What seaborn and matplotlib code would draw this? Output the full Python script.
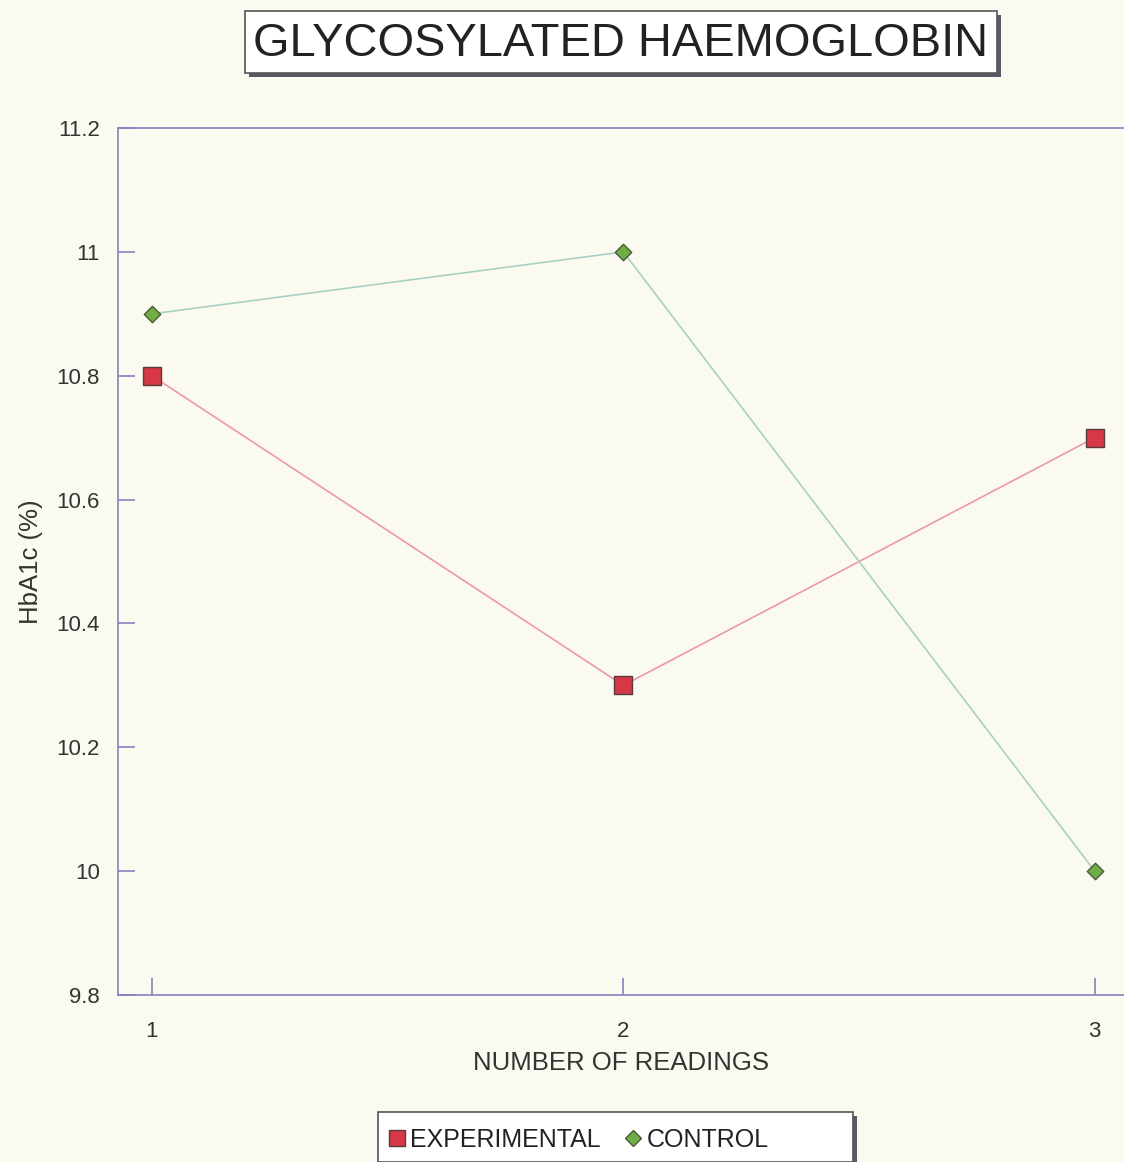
import pandas as pd
import matplotlib.pyplot as plt
import seaborn as sns
from matplotlib.lines import Line2D
from matplotlib.patches import Rectangle

readings = [1, 2, 3]
experimental = [10.8, 10.3, 10.7]
control = [10.9, 11.0, 10.0]
y_ticks = [9.8, 10, 10.2, 10.4, 10.6, 10.8, 11, 11.2]
y_tick_labels = ['9.8', '10', '10.2', '10.4', '10.6', '10.8', '11', '11.2']

BG = '#fbfaf0'
SPINE = '#8a7fc0'
TXT = '#333333'
W, H = 1124, 1162

sns.set_theme(style='white')
plt.rcParams['font.family'] = ['Liberation Sans', 'DejaVu Sans']

df = pd.DataFrame({
    'reading': readings * 2,
    'value': experimental + control,
    'group': ['EXPERIMENTAL'] * 3 + ['CONTROL'] * 3,
})

fig = plt.figure(figsize=(W / 100, H / 100), dpi=100, facecolor=BG)
ax = fig.add_axes([0.105, 0.1437, 0.895, 0.7461])
ax.set_facecolor(BG)

# lines
sns.lineplot(data=df, x='reading', y='value', hue='group',
             palette={'EXPERIMENTAL': '#ec98ac', 'CONTROL': '#a8d0c4'},
             linewidth=1.2, legend=False, ax=ax)
# markers
exp = df[df['group'] == 'EXPERIMENTAL']
ctl = df[df['group'] == 'CONTROL']
sns.scatterplot(data=exp, x='reading', y='value', marker='s', s=150,
                color='#d63848', edgecolor='#5a3a3a', linewidth=1.0,
                legend=False, ax=ax, zorder=3)
sns.scatterplot(data=ctl, x='reading', y='value', marker='D', s=70,
                color='#6fae45', edgecolor='#4a5a3a', linewidth=1.0,
                legend=False, ax=ax, zorder=3)

ax.set_xlim(0.928, 3.062)
ax.set_ylim(9.8, 11.2)
ax.set_xticks(readings)
ax.set_xticklabels([str(r) for r in readings], fontsize=16, color=TXT)
ax.set_yticks(y_ticks)
ax.set_yticklabels(y_tick_labels, fontsize=16, color=TXT)
ax.tick_params(axis='both', direction='in', length=12, width=1.2,
               color=SPINE)
ax.tick_params(axis='y', left=True, right=False, pad=13)
ax.tick_params(axis='x', bottom=True, top=False, pad=19)
for side, sp in ax.spines.items():
    sp.set_color(SPINE)
    sp.set_linewidth(1.2)
ax.spines['right'].set_visible(False)

ax.set_xlabel('NUMBER OF READINGS', fontsize=18.5, color=TXT, labelpad=6)
ax.set_ylabel('HbA1c (%)', fontsize=18.5, color=TXT, labelpad=10)


def shadow_box(x0, y0, x1, y1, off=4):
    # pixel box (from top-left) drawn with a dark drop shadow
    fig.patches.append(Rectangle(((x0 + off) / W, 1 - (y1 + off) / H),
                                 (x1 - x0) / W, (y1 - y0) / H,
                                 transform=fig.transFigure,
                                 facecolor='#5c5868', edgecolor='none',
                                 zorder=1))
    fig.patches.append(Rectangle((x0 / W, 1 - y1 / H),
                                 (x1 - x0) / W, (y1 - y0) / H,
                                 transform=fig.transFigure,
                                 facecolor='white', edgecolor='#555555',
                                 linewidth=1.2, zorder=2))


# title box
shadow_box(245, 11, 997, 73)
fig.text(621 / W, 1 - 44 / H, 'GLYCOSYLATED HAEMOGLOBIN', fontsize=33.8,
         ha='center', va='center', color='#222222', zorder=3)

# legend box
shadow_box(378, 1112, 853, 1162)
handles = [
    Line2D([], [], marker='s', linestyle='none', markersize=11,
           markerfacecolor='#d63848', markeredgecolor='#5a3a3a'),
    Line2D([], [], marker='D', linestyle='none', markersize=8,
           markerfacecolor='#6fae45', markeredgecolor='#4a5a3a'),
]
leg = fig.legend(handles, ['EXPERIMENTAL', 'CONTROL'], ncol=2,
                 loc='center left', bbox_to_anchor=(374 / W, 1 - 1140 / H),
                 fontsize=18, frameon=False, borderpad=0,
                 handletextpad=0.15, columnspacing=0.9, handlelength=0.8)
leg.set_zorder(4)
for t in leg.get_texts():
    t.set_color('#222222')

fig.savefig('out.png', dpi=100, facecolor=BG)
